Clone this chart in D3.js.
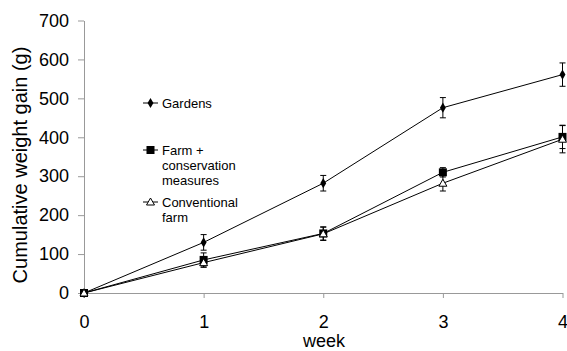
<!DOCTYPE html>
<html>
<head>
<meta charset="utf-8">
<script src="https://cdn.jsdelivr.net/npm/d3@7"></script>
<style>
  body { margin: 0; background: #fff; }
  text { font-family: "Liberation Sans", Arial, sans-serif; }
</style>
</head>
<body>
<div id="chart"></div>
<script>
// data
var weeks = [0, 1, 2, 3, 4];
var gardens      = [0, 130, 282, 476, 561];
var gardensErr   = [0, 20, 20, 26, 30];
var farmCons     = [0, 85, 153, 310, 401];
var farmConsErr  = [0, 18, 17, 12, 30];
var convFarm     = [0, 78, 152, 282, 395];
var convFarmErr  = [0, 12, 17, 20, 35];
var yTicks = [0, 100, 200, 300, 400, 500, 600, 700];

var series = [
  {name: ["Gardens"], values: gardens, err: gardensErr, shape: "diamond", ly: 103},
  {name: ["Farm +", "conservation", "measures"], values: farmCons, err: farmConsErr, shape: "square", ly: 150},
  {name: ["Conventional", "farm"], values: convFarm, err: convFarmErr, shape: "triangle", ly: 202}
];

var width = 567, height = 351;
var margin = {top: 20.5, right: 5, bottom: 58, left: 84};

var svg = d3.select("#chart").append("svg")
  .attr("width", width)
  .attr("height", height);

var x = d3.scaleLinear().domain([0, 4]).range([margin.left, 562.5]);
var y = d3.scaleLinear().domain([0, 700]).range([293, margin.top]);

//......... axes ..........
var yAxis = svg.append("g")
  .attr("transform", "translate(" + margin.left + ",0)")
  .call(d3.axisLeft(y).tickValues(yTicks).tickFormat(d3.format("d"))
    .tickSize(6).tickPadding(9).tickSizeOuter(0));
var xAxis = svg.append("g")
  .attr("transform", "translate(0," + y(0) + ")")
  .call(d3.axisBottom(x).tickValues(weeks).tickFormat(d3.format("d"))
    .tickSize(5).tickPadding(17).tickSizeOuter(0));

[xAxis, yAxis].forEach(function(ax){
  ax.selectAll("path, line").attr("stroke", "#999").attr("stroke-width", 1);
  ax.selectAll("text").attr("fill", "#000").style("font-size", "18px")
    .style("font-family", "'Liberation Sans', Arial, sans-serif");
});

svg.append("text")
  .attr("transform", "translate(27,165) rotate(-90)")
  .attr("text-anchor", "middle")
  .style("font-size", "20px")
  .text("Cumulative weight gain (g)");

svg.append("text")
  .attr("x", 324)
  .attr("y", 347)
  .attr("text-anchor", "middle")
  .style("font-size", "18px")
  .text("week");

//......... markers ..........
function marker(g, shape, cx, cy) {
  if (shape == "diamond") {
    g.append("path")
      .attr("d", d3.symbol().type(d3.symbolDiamond).size(30)())
      .attr("transform", "translate(" + cx + "," + cy + ")")
      .attr("fill", "#000");
  } else if (shape == "square") {
    g.append("rect")
      .attr("x", cx - 4).attr("y", cy - 4)
      .attr("width", 8).attr("height", 8)
      .attr("fill", "#000");
  } else {
    g.append("path")
      .attr("d", "M" + cx + "," + (cy - 4) + "L" + (cx + 4) + "," + (cy + 3) + "L" + (cx - 4) + "," + (cy + 3) + "Z")
      .attr("fill", "#fff")
      .attr("stroke", "#000")
      .attr("stroke-width", 1);
  }
}

var line = d3.line()
  .x(function(d, i){ return x(weeks[i]); })
  .y(function(d){ return y(d); });

series.forEach(function(s){
  var g = svg.append("g");
  g.append("path")
    .attr("d", line(s.values))
    .attr("fill", "none")
    .attr("stroke", "#000")
    .attr("stroke-width", 1);

  s.values.forEach(function(v, i){
    if (s.err[i] > 0) {
      var xx = x(weeks[i]);
      g.append("line").attr("x1", xx).attr("x2", xx)
        .attr("y1", y(v - s.err[i])).attr("y2", y(v + s.err[i]))
        .attr("stroke", "#000");
      [v - s.err[i], v + s.err[i]].forEach(function(e){
        g.append("line").attr("x1", xx - 3).attr("x2", xx + 3)
          .attr("y1", y(e)).attr("y2", y(e))
          .attr("stroke", "#000");
      });
    }
  });
  s.values.forEach(function(v, i){
    marker(g, s.shape, x(weeks[i]), y(v));
  });

  //legend entry
  var lg = svg.append("g");
  lg.append("line").attr("x1", 143).attr("x2", 158)
    .attr("y1", s.ly).attr("y2", s.ly)
    .attr("stroke", "#000");
  marker(lg, s.shape, 150.5, s.ly);
  s.name.forEach(function(t, k){
    lg.append("text")
      .attr("x", 162)
      .attr("y", s.ly + 4.5 + k * 15)
      .style("font-size", "13px")
      .text(t);
  });
});
</script>
</body>
</html>
